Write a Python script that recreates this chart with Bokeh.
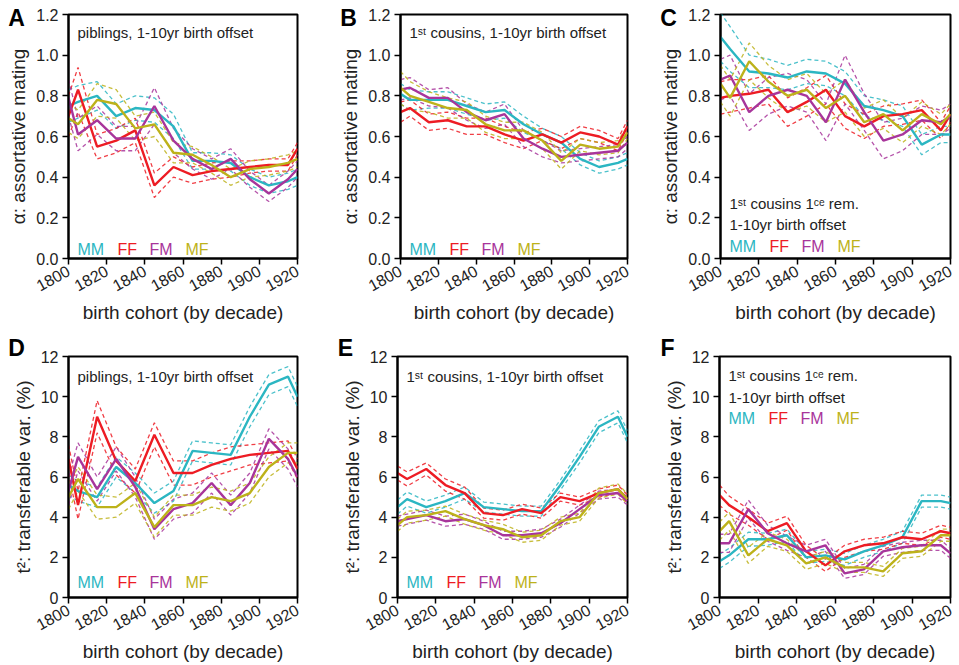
import numpy as np
from bokeh.plotting import figure
from bokeh.models import Range1d, FixedTicker, Label, NumeralTickFormatter
from bokeh.layouts import column, row
from bokeh.embed import file_html
from bokeh.resources import INLINE

# x positions: 1800 edge, decade mid-points 1805..1915, 1920 edge
years = [1800, 1805, 1815, 1825, 1835, 1845, 1855, 1865, 1875, 1885, 1895, 1905, 1915, 1920]
x_ticks = [1800, 1820, 1840, 1860, 1880, 1900, 1920]
alpha_ticks = [0.0, 0.2, 0.4, 0.6, 0.8, 1.0, 1.2]
t2_ticks = [0, 2, 4, 6, 8, 10, 12]
series_names = ["MM", "FF", "FM", "MF"]
series_colors = ["#2bb6c2", "#ed1c24", "#a8359b", "#bdb21a"]

# Panel A: piblings, assortative mating
A_MM = [0.75, 0.77, 0.80, 0.70, 0.74, 0.73, 0.65, 0.48, 0.48, 0.47, 0.40, 0.36, 0.38, 0.40]
A_FF = [0.70, 0.83, 0.55, 0.58, 0.63, 0.36, 0.45, 0.41, 0.43, 0.44, 0.45, 0.46, 0.46, 0.54]
A_FM = [0.79, 0.61, 0.68, 0.59, 0.59, 0.75, 0.58, 0.49, 0.44, 0.49, 0.39, 0.32, 0.39, 0.44]
A_MF = [0.69, 0.66, 0.78, 0.76, 0.64, 0.66, 0.52, 0.51, 0.46, 0.40, 0.44, 0.45, 0.47, 0.49]
A_MM_ci = [0.08, 0.08, 0.07, 0.06, 0.06, 0.06, 0.06, 0.04, 0.04, 0.04, 0.04, 0.04, 0.04, 0.04]
A_FF_ci = [0.10, 0.11, 0.06, 0.06, 0.06, 0.06, 0.05, 0.04, 0.04, 0.04, 0.03, 0.03, 0.03, 0.03]
A_FM_ci = [0.09, 0.08, 0.07, 0.06, 0.06, 0.09, 0.06, 0.05, 0.05, 0.05, 0.04, 0.04, 0.04, 0.04]
A_MF_ci = [0.07, 0.07, 0.08, 0.07, 0.06, 0.06, 0.05, 0.04, 0.04, 0.04, 0.04, 0.04, 0.04, 0.04]

# Panel B: 1st cousins, assortative mating
B_MM = [0.81, 0.78, 0.78, 0.78, 0.75, 0.72, 0.73, 0.66, 0.61, 0.57, 0.49, 0.45, 0.47, 0.49]
B_FF = [0.72, 0.74, 0.67, 0.68, 0.65, 0.65, 0.61, 0.58, 0.61, 0.57, 0.62, 0.60, 0.56, 0.65]
B_FM = [0.83, 0.84, 0.79, 0.79, 0.72, 0.68, 0.71, 0.59, 0.54, 0.50, 0.51, 0.52, 0.53, 0.57]
B_MF = [0.84, 0.80, 0.77, 0.74, 0.73, 0.66, 0.63, 0.63, 0.58, 0.48, 0.56, 0.54, 0.55, 0.62]
B_MM_ci = [0.05, 0.05, 0.04, 0.04, 0.04, 0.04, 0.04, 0.04, 0.03, 0.03, 0.03, 0.03, 0.03, 0.03]
B_FF_ci = [0.05, 0.04, 0.04, 0.04, 0.04, 0.04, 0.04, 0.04, 0.03, 0.03, 0.03, 0.03, 0.03, 0.03]
B_FM_ci = [0.05, 0.05, 0.04, 0.05, 0.04, 0.04, 0.05, 0.04, 0.04, 0.03, 0.03, 0.03, 0.03, 0.03]
B_MF_ci = [0.08, 0.07, 0.05, 0.05, 0.04, 0.04, 0.04, 0.04, 0.04, 0.04, 0.03, 0.03, 0.03, 0.03]

# Panel C: 1st cousins once removed, assortative mating
C_MM = [1.09, 1.03, 0.92, 0.91, 0.89, 0.92, 0.91, 0.86, 0.75, 0.73, 0.70, 0.56, 0.61, 0.61]
C_FF = [0.79, 0.80, 0.81, 0.83, 0.72, 0.77, 0.83, 0.70, 0.65, 0.70, 0.71, 0.73, 0.63, 0.71]
C_FM = [0.88, 0.90, 0.72, 0.80, 0.83, 0.80, 0.67, 0.88, 0.72, 0.58, 0.61, 0.68, 0.67, 0.70]
C_MF = [0.86, 0.79, 0.97, 0.87, 0.80, 0.83, 0.74, 0.80, 0.67, 0.71, 0.63, 0.71, 0.66, 0.71]
C_MM_ci = [0.12, 0.11, 0.08, 0.07, 0.06, 0.06, 0.06, 0.06, 0.05, 0.05, 0.05, 0.05, 0.04, 0.04]
C_FF_ci = [0.08, 0.08, 0.07, 0.07, 0.07, 0.07, 0.07, 0.06, 0.06, 0.05, 0.05, 0.05, 0.04, 0.04]
C_FM_ci = [0.10, 0.10, 0.09, 0.09, 0.08, 0.08, 0.09, 0.12, 0.09, 0.09, 0.08, 0.07, 0.06, 0.06]
C_MF_ci = [0.09, 0.09, 0.09, 0.08, 0.08, 0.08, 0.07, 0.08, 0.07, 0.07, 0.06, 0.06, 0.05, 0.05]

# Panel D: piblings, transferable variance
D_MM = [5.6, 5.3, 5.0, 6.5, 5.7, 4.7, 5.3, 7.3, 7.2, 7.1, 9.0, 10.6, 11.0, 10.0]
D_FF = [6.9, 4.6, 9.0, 6.8, 5.8, 8.1, 6.2, 6.2, 6.6, 6.9, 7.1, 7.2, 7.3, 6.4]
D_FM = [5.3, 7.0, 5.4, 6.9, 5.5, 3.4, 4.4, 4.7, 5.7, 4.6, 5.7, 7.9, 6.9, 6.0]
D_MF = [5.0, 5.9, 4.5, 4.5, 5.2, 3.5, 4.6, 4.6, 5.0, 4.8, 5.2, 6.5, 7.2, 7.2]
D_MM_ci = [0.5, 0.5, 0.5, 0.5, 0.5, 0.5, 0.5, 0.5, 0.5, 0.5, 0.5, 0.5, 0.5, 0.5]
D_FF_ci = [0.7, 0.7, 0.8, 0.7, 0.6, 0.6, 0.6, 0.6, 0.6, 0.6, 0.5, 0.5, 0.5, 0.5]
D_FM_ci = [0.7, 0.7, 0.6, 0.6, 0.5, 0.5, 0.5, 0.5, 0.5, 0.5, 0.5, 0.5, 0.5, 0.5]
D_MF_ci = [0.6, 0.6, 0.6, 0.5, 0.5, 0.5, 0.5, 0.5, 0.5, 0.5, 0.5, 0.5, 0.5, 0.5]

# Panel E: 1st cousins, transferable variance
E_MM = [4.5, 4.9, 4.5, 4.8, 5.2, 4.5, 4.4, 4.3, 4.3, 5.6, 7.0, 8.5, 9.0, 8.0]
E_FF = [6.2, 5.9, 6.4, 5.6, 5.2, 4.2, 4.1, 4.4, 4.2, 5.0, 4.8, 5.2, 5.4, 4.9]
E_FM = [3.8, 3.9, 4.1, 3.8, 3.9, 3.6, 3.1, 3.1, 3.2, 3.7, 4.4, 5.1, 5.2, 4.8]
E_MF = [3.6, 4.0, 4.1, 4.3, 3.9, 3.6, 3.4, 3.0, 3.1, 3.8, 4.0, 5.2, 5.4, 4.9]
E_MM_ci = [0.35, 0.35, 0.3, 0.3, 0.3, 0.25, 0.25, 0.25, 0.25, 0.25, 0.3, 0.3, 0.3, 0.3]
E_FF_ci = [0.35, 0.35, 0.3, 0.3, 0.3, 0.25, 0.25, 0.25, 0.25, 0.2, 0.2, 0.2, 0.2, 0.2]
E_FM_ci = [0.25, 0.25, 0.25, 0.25, 0.25, 0.2, 0.2, 0.2, 0.2, 0.2, 0.2, 0.2, 0.2, 0.2]
E_MF_ci = [0.3, 0.3, 0.25, 0.25, 0.25, 0.25, 0.25, 0.25, 0.25, 0.2, 0.2, 0.25, 0.25, 0.25]

# Panel F: 1st cousins once removed, transferable variance
F_MM = [1.8, 2.1, 2.9, 2.9, 3.1, 2.0, 2.1, 1.9, 2.3, 2.6, 3.0, 4.8, 4.8, 4.7]
F_FF = [5.1, 4.6, 4.0, 3.3, 3.7, 2.3, 1.6, 2.3, 2.6, 2.7, 3.0, 2.9, 3.3, 3.2]
F_FM = [2.7, 2.7, 4.4, 3.2, 2.7, 2.3, 2.6, 1.2, 1.4, 2.3, 2.5, 2.6, 2.6, 2.2]
F_MF = [3.3, 3.8, 2.1, 2.9, 2.6, 1.7, 2.0, 1.5, 1.5, 1.3, 2.2, 2.3, 3.1, 3.1]
F_MM_ci = [0.35, 0.35, 0.35, 0.3, 0.3, 0.3, 0.3, 0.3, 0.3, 0.3, 0.3, 0.3, 0.3, 0.3]
F_FF_ci = [0.5, 0.45, 0.4, 0.4, 0.35, 0.3, 0.3, 0.3, 0.3, 0.3, 0.3, 0.3, 0.3, 0.3]
F_FM_ci = [0.45, 0.45, 0.45, 0.4, 0.35, 0.3, 0.3, 0.25, 0.25, 0.25, 0.25, 0.25, 0.25, 0.25]
F_MF_ci = [0.45, 0.45, 0.4, 0.35, 0.3, 0.3, 0.3, 0.25, 0.25, 0.25, 0.25, 0.25, 0.3, 0.3]

FONT = "Liberation Sans"


def make_panel(letter, values, cis, ymax, yticks, yfmt, ylabel, width, height,
               bl, br, bt, bb, letter_dy, letter_side, top_texts, legend_anchor, legend_dy):
    p = figure(width=width, height=height, output_backend="svg", toolbar_location=None,
               x_range=Range1d(1800, 1920), y_range=Range1d(0, ymax),
               min_border_left=bl, min_border_right=br, min_border_top=bt, min_border_bottom=bb)
    p.grid.visible = False
    p.outline_line_color = "black"
    p.outline_line_width = 2
    p.outline_line_alpha = 1
    p.background_fill_color = "white"
    p.border_fill_color = "white"
    for ax in (p.xaxis[0], p.yaxis[0]):
        ax.axis_line_width = 2
        ax.axis_line_color = "black"
        ax.major_tick_line_width = 1.5
        ax.major_tick_out = 6
        ax.major_tick_in = 0
        ax.minor_tick_line_color = None
        ax.major_label_text_font = FONT
        ax.major_label_text_font_size = "16px"
        ax.major_label_text_color = "#222222"
        ax.axis_label_text_font = FONT
        ax.axis_label_text_font_style = "normal"
        ax.axis_label_text_font_size = "19px"
        ax.axis_label_text_color = "#222222"
    p.xaxis[0].ticker = FixedTicker(ticks=x_ticks)
    p.xaxis[0].major_label_orientation = 0.5
    p.xaxis[0].axis_label = "birth cohort (by decade)"
    p.xaxis[0].axis_label_standoff = 2
    p.yaxis[0].ticker = FixedTicker(ticks=yticks)
    p.yaxis[0].formatter = NumeralTickFormatter(format=yfmt)
    p.yaxis[0].axis_label = ylabel
    p.yaxis[0].axis_label_standoff = 4
    p.yaxis[0].major_label_standoff = 4

    for v, c, col in zip(values, cis, series_colors):
        v = np.array(v, dtype=float)
        c = np.array(c, dtype=float)
        p.line(years, v + c, line_color=col, line_width=1.3, line_dash="4 3", line_alpha=0.85)
        p.line(years, v - c, line_color=col, line_width=1.3, line_dash="4 3", line_alpha=0.85)
    for v, col in zip(values, series_colors):
        p.line(years, v, line_color=col, line_width=2.4)

    # panel letter, placed in a side panel so that it is not clipped by the frame
    p.add_layout(Label(x=1800, y=ymax, x_offset=-52, y_offset=letter_dy, text=letter,
                       text_font=FONT, text_font_style="bold", text_font_size="23px",
                       text_line_height=0.7,
                       text_align="center", text_baseline="middle", text_color="black"), letter_side)
    # descriptive texts
    for txt, yanchor, dy in top_texts:
        p.add_layout(Label(x=1800, y=yanchor, x_offset=9, y_offset=dy, text=txt,
                           text_font=FONT, text_font_size="15px", text_color="#222222",
                           text_align="left", text_baseline="middle"))
    # colour legend
    for name, col, dx in zip(series_names, series_colors, [9, 49, 81, 117]):
        p.add_layout(Label(x=1800, y=legend_anchor, x_offset=dx, y_offset=legend_dy, text=name,
                           text_font=FONT, text_font_size="16px", text_color=col,
                           text_align="left", text_baseline="middle"))
    return p


ALPHA_LABEL = "α: assortative mating"
T2_LABEL = "t²: transferable var. (%)"
TXT_PIB = "piblings, 1-10yr birth offset"
TXT_COUS = "1ˢᵗ cousins, 1-10yr birth offset"
TXT_REM1 = "1ˢᵗ cousins 1ᶜᵉ rem."
TXT_REM2 = "1-10yr birth offset"

pA = make_panel("A", [A_MM, A_FF, A_FM, A_MF], [A_MM_ci, A_FF_ci, A_FM_ci, A_MF_ci], 1.2,
                alpha_ticks, "0.0", ALPHA_LABEL, 320, 330, 68, 23, 14, 72, -3, "right",
                [(TXT_PIB, 1.2, -18)], 0.0, 9)
pB = make_panel("B", [B_MM, B_FF, B_FM, B_MF], [B_MM_ci, B_FF_ci, B_FM_ci, B_MF_ci], 1.2,
                alpha_ticks, "0.0", ALPHA_LABEL, 320, 330, 77, 13, 14, 72, -3, "left",
                [(TXT_COUS, 1.2, -18)], 0.0, 9)
pC = make_panel("C", [C_MM, C_FF, C_FM, C_MF], [C_MM_ci, C_FF_ci, C_FM_ci, C_MF_ci], 1.2,
                alpha_ticks, "0.0", ALPHA_LABEL, 319, 330, 79, 9, 14, 72, -3, "left",
                [(TXT_REM1, 0.0, 55), (TXT_REM2, 0.0, 34)], 0.0, 12)
pD = make_panel("D", [D_MM, D_FF, D_FM, D_MF], [D_MM_ci, D_FF_ci, D_FM_ci, D_MF_ci], 12,
                t2_ticks, "0", T2_LABEL, 320, 335, 68, 23, 26, 63, 9, "right",
                [(TXT_PIB, 12, -20)], 0, 15)
pE = make_panel("E", [E_MM, E_FF, E_FM, E_MF], [E_MM_ci, E_FF_ci, E_FM_ci, E_MF_ci], 12,
                t2_ticks, "0", T2_LABEL, 320, 335, 77, 13, 26, 63, 9, "left",
                [(TXT_COUS, 12, -20)], 0, 15)
pF = make_panel("F", [F_MM, F_FF, F_FM, F_MF], [F_MM_ci, F_FF_ci, F_FM_ci, F_MF_ci], 12,
                t2_ticks, "0", T2_LABEL, 319, 335, 79, 9, 26, 63, 9, "left",
                [(TXT_REM1, 12, -19), (TXT_REM2, 12, -41)], 12, -62)

layout = column(row(pA, pB, pC), row(pD, pE, pF))
open("out.html", "w").write(file_html(layout, INLINE))
